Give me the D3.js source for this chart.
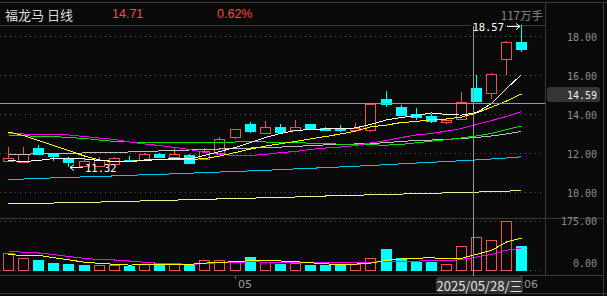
<!DOCTYPE html>
<html>
<head>
<meta charset="utf-8">
<script src="https://cdn.jsdelivr.net/npm/d3@7"></script>
<style>
    body { margin: 0; background: #0a0a0a; }
    svg { display: block; }
</style>
</head>
<body>
<svg id="chart" width="607" height="296"></svg>
<script>
// daily candles, 2025-04-10 .. 2025-06-03
const dates = ['2025-04-10', '2025-04-11', '2025-04-14', '2025-04-15', '2025-04-16', '2025-04-17', '2025-04-18',
    '2025-04-21', '2025-04-22', '2025-04-23', '2025-04-24', '2025-04-25', '2025-04-28', '2025-04-29', '2025-04-30',
    '2025-05-06', '2025-05-07', '2025-05-08', '2025-05-09', '2025-05-12', '2025-05-13', '2025-05-14', '2025-05-15',
    '2025-05-16', '2025-05-19', '2025-05-20', '2025-05-21', '2025-05-22', '2025-05-23', '2025-05-26', '2025-05-27',
    '2025-05-28', '2025-05-29', '2025-05-30', '2025-06-03'];
const open = [11.59, 11.54, 12.26, 11.98, 11.79, 11.38, 11.38, 11.47, 11.69, 11.69, 11.95, 11.83, 11.90, 11.74, 12.05,
    12.87, 13.49, 13.03, 13.38, 13.23, 13.49, 13.33, 13.28, 13.18, 13.18, 14.82, 14.36, 14.05, 13.90, 13.59, 13.79,
    15.38, 15.08, 16.87, 17.74];
const high = [12.33, 12.31, 12.46, 12.00, 11.82, 11.72, 11.81, 11.80, 11.85, 12.05, 12.03, 12.31, 11.95, 12.26, 12.87,
    13.28, 13.59, 13.69, 13.49, 13.74, 13.51, 13.38, 13.44, 13.54, 14.59, 15.23, 14.51, 14.31, 14.05, 13.76, 15.13,
    16.05, 16.12, 17.76, 18.57];
const low = [11.57, 11.52, 11.93, 11.62, 11.32, 11.36, 11.36, 11.45, 11.56, 11.67, 11.79, 11.80, 11.45, 11.72, 12.03,
    12.72, 13.03, 13.00, 13.03, 13.20, 13.26, 13.18, 13.08, 13.16, 13.08, 14.36, 13.98, 13.74, 13.54, 13.49, 13.77,
    14.67, 14.82, 16.05, 17.23];
const close = [11.79, 12.00, 11.95, 11.85, 11.54, 11.64, 11.68, 11.76, 11.59, 11.95, 11.82, 12.00, 11.50, 12.15, 12.72,
    13.28, 13.13, 13.38, 13.08, 13.38, 13.28, 13.23, 13.18, 13.33, 14.56, 14.56, 14.00, 13.85, 13.69, 13.74, 14.62,
    14.71, 16.10, 17.74, 17.38];

// volume, 万手
const volume = [60.7, 42.9, 35.7, 25, 21.4, 17.9, 17.9, 17.9, 14.3, 21.4, 25, 25, 17.9, 35.7, 35.7, 32, 46, 27, 21, 25,
    18, 18, 18, 21, 42, 75, 42, 30, 30, 20, 86, 117, 107, 175, 86];
const volUp = [1, 1, 0, 0, 0, 0, 1, 1, 0, 1, 0, 1, 0, 1, 1, 1, 0, 1, 0, 1, 0, 0, 0, 1, 1, 0, 0, 0, 0, 1, 1, 1, 1, 1, 0];

// moving averages
const ma5 = [11.64, 11.59, 11.64, 11.74, 11.77, 11.72, 11.64, 11.59, 11.59, 11.64, 11.69, 11.74, 11.72, 11.90, 12.10,
    12.31, 12.56, 12.82, 13.03, 13.18, 13.23, 13.26, 13.28, 13.31, 13.49, 13.72, 13.85, 13.95, 14.08, 14.00, 13.97,
    14.10, 14.56, 15.33, 16.05];
const ma10 = [13.10, 12.92, 12.67, 12.41, 12.15, 11.87, 11.67, 11.59, 11.59, 11.67, 11.69, 11.69, 11.69, 11.74, 11.87,
    12.05, 12.23, 12.38, 12.50, 12.62, 12.75, 12.87, 13.00, 13.15, 13.36, 13.46, 13.59, 13.64, 13.74, 13.77, 13.87,
    14.08, 14.38, 14.69, 15.05];
const ma20 = [13.03, 13.00, 12.97, 12.97, 12.95, 12.87, 12.79, 12.72, 12.59, 12.49, 12.41, 12.31, 12.21, 12.05, 11.95,
    11.90, 11.90, 11.95, 12.05, 12.10, 12.21, 12.28, 12.33, 12.41, 12.54, 12.67, 12.82, 12.95, 13.03, 13.15, 13.28,
    13.49, 13.69, 13.90, 14.15];
const ma30 = [12.92, 12.92, 12.87, 12.87, 12.82, 12.77, 12.69, 12.62, 12.59, 12.56, 12.56, 12.56, 12.56, 12.56, 12.56,
    12.59, 12.59, 12.59, 12.56, 12.56, 12.53, 12.50, 12.48, 12.46, 12.44, 12.43, 12.47, 12.55, 12.63, 12.71, 12.80,
    12.90, 13.03, 13.22, 13.41];
const ma60 = [11.95, 11.95, 12.00, 12.00, 12.00, 12.03, 12.05, 12.05, 12.08, 12.10, 12.13, 12.15, 12.18, 12.21, 12.23,
    12.26, 12.28, 12.31, 12.33, 12.36, 12.41, 12.44, 12.46, 12.49, 12.51, 12.56, 12.62, 12.67, 12.69, 12.72, 12.77,
    12.82, 12.90, 13.00, 13.13];
const ma120 = [10.67, 10.69, 10.72, 10.75, 10.78, 10.80, 10.83, 10.85, 10.88, 10.91, 10.93, 10.96, 10.99, 11.02, 11.05,
    11.08, 11.11, 11.14, 11.17, 11.21, 11.24, 11.28, 11.31, 11.35, 11.38, 11.43, 11.47, 11.51, 11.55, 11.59, 11.63,
    11.67, 11.72, 11.77, 11.83];
const ma250 = [9.41, 9.44, 9.45, 9.46, 9.49, 9.50, 9.51, 9.54, 9.55, 9.57, 9.59, 9.61, 9.63, 9.65, 9.67, 9.69, 9.71,
    9.73, 9.75, 9.77, 9.79, 9.82, 9.84, 9.86, 9.88, 9.90, 9.92, 9.94, 9.96, 9.98, 10.00, 10.02, 10.05, 10.07, 10.10];
const volMa5 = [57, 50, 52.5, 44, 36.8, 27.5, 23.9, 20.4, 17.5, 19.5, 20.5, 20.7, 20, 24.5, 27.5, 29.5, 33.5, 35.3, 32.3,
    29.5, 26, 21.8, 20.2, 21, 24.5, 34.5, 39.5, 42, 44, 39.4, 41.8, 56, 70, 100, 114];
const volMa10 = [67.9, 63.2, 60.7, 55.4, 48.2, 41.8, 36.4, 35.7, 32.1, 27.5, 23.9, 22.5, 20.4, 22.5, 26.1, 26.1, 29.6,
    28, 27.5, 27.5, 27, 26.5, 26.5, 26.5, 27.5, 30.5, 31.5, 32, 32.5, 33, 38, 46, 56, 71, 77];

const priceTicks = [10, 12, 14, 16, 18];
const volTicks = [0, 175];

const title = '福龙马 日线';
const cursorIdx = 31;          // 2025/05/28
const cursorPrice = 14.59;
const cursorLabel = '2025/05/28/三';
const weekdayLabel = '万手';

const red = '#f05252', cyan = '#00ffff', bg = '#0a0a0a';
const frame = '#3a3a3a', dots = '#555', axisText = '#8e8e8e';
const mono = '"DejaVu Sans Mono", monospace';
const cjk = '"Noto Sans CJK SC", sans-serif';

const svg = d3.select('#chart');
svg.append('rect').attr('width', 607).attr('height', 296).attr('fill', bg);

const n = dates.length;
const x = d3.scaleBand().domain(d3.range(n)).range([0.5, 529]);
const cx = i => Math.round(x(i) + x.bandwidth() / 2);
const y = d3.scaleLinear().domain([10, 18]).range([192.5, 36.5]);
const yv = d3.scaleLinear().domain([0, 175]).range([270, 221]);
const px = v => Math.floor(v) + 0.5;

// panel frame
const frameG = svg.append('g').attr('stroke', frame).attr('shape-rendering', 'crispEdges');
[[0, 2.5, 607, 2.5], [0, 25.5, 545, 25.5], [545.5, 2.5, 545.5, 276], [0, 218.5, 603, 218.5],
    [0, 275.5, 603, 275.5], [0, 293.5, 607, 293.5], [603.5, 2.5, 603.5, 296]].forEach(l => {
    frameG.append('line').attr('x1', l[0]).attr('y1', l[1]).attr('x2', l[2]).attr('y2', l[3]);
});

// dotted grid
const gridG = svg.append('g').attr('stroke', dots).attr('stroke-dasharray', '1,4')
    .attr('shape-rendering', 'crispEdges');
gridG.selectAll('line.p').data(priceTicks).enter().append('line')
    .attr('x1', 0).attr('x2', 545).attr('y1', d => px(y(d))).attr('y2', d => px(y(d)));
gridG.selectAll('line.v').data(volTicks).enter().append('line')
    .attr('x1', 0).attr('x2', 545).attr('y1', d => px(yv(d))).attr('y2', d => px(yv(d)));

// right axis labels
svg.append('g').selectAll('text').data(priceTicks).enter().append('text')
    .attr('x', 597).attr('y', d => y(d) + 0.5)
    .attr('text-anchor', 'end').attr('dominant-baseline', 'central')
    .attr('font-family', mono).attr('font-size', 10).attr('fill', axisText)
    .text(d => d.toFixed(2));
svg.append('g').selectAll('text').data(volTicks).enter().append('text')
    .attr('x', 597).attr('y', d => d === 0 ? yv(d) - 7 : yv(d) + 0.5)
    .attr('text-anchor', 'end').attr('dominant-baseline', 'central')
    .attr('font-family', mono).attr('font-size', 10).attr('fill', axisText)
    .text(d => d.toFixed(2));

// long moving averages under the candles
const priceLine = arr => d3.line().x((d, i) => cx(i) + 0.5).y(d => y(d))(arr);
const maDefs = [
    [ma250, '#f2f28c'], [ma120, '#00c8f0'], [ma60, '#bdbdbd'], [ma30, '#00e600'],
    [ma20, '#ff00ff'], [ma10, '#ffff00'], [ma5, '#ffffff']
];

// candles
const idx = d3.range(n);
const candles = svg.append('g').attr('shape-rendering', 'crispEdges');
candles.selectAll('line').data(idx).enter().append('line')
    .attr('x1', i => cx(i) + 0.5).attr('x2', i => cx(i) + 0.5)
    .attr('y1', i => Math.round(y(high[i]))).attr('y2', i => Math.round(y(low[i])))
    .attr('stroke', i => close[i] >= open[i] ? red : cyan);
candles.selectAll('rect').data(idx).enter().append('rect')
    .each(function (i) {
        const up = close[i] >= open[i];
        const top = Math.round(y(Math.max(open[i], close[i])));
        const bot = Math.round(y(Math.min(open[i], close[i])));
        const r = d3.select(this);
        if (up) {
            r.attr('x', cx(i) - 4.5).attr('width', 10).attr('y', top + 0.5)
                .attr('height', Math.max(bot - top, 1))
                .attr('fill', bg).attr('stroke', red);
        } else {
            r.attr('x', cx(i) - 5).attr('width', 11).attr('y', top)
                .attr('height', Math.max(bot - top + 1, 1)).attr('fill', cyan);
        }
    });

// MA lines
svg.append('g').attr('fill', 'none').attr('shape-rendering', 'crispEdges')
    .selectAll('path').data(maDefs).enter().append('path')
    .attr('d', d => priceLine(d[0])).attr('stroke', d => d[1]).attr('stroke-width', 1);

// volume bars
const vols = svg.append('g').attr('shape-rendering', 'crispEdges');
vols.selectAll('rect').data(idx).enter().append('rect')
    .each(function (i) {
        const top = Math.round(yv(volume[i]));
        const r = d3.select(this);
        if (volUp[i]) {
            r.attr('x', cx(i) - 4.5).attr('width', 10).attr('y', top + 0.5)
                .attr('height', 270 - top).attr('fill', 'none').attr('stroke', red);
        } else {
            r.attr('x', cx(i) - 5).attr('width', 11).attr('y', top)
                .attr('height', 271 - top).attr('fill', cyan);
        }
    });
const volLine = arr => d3.line().x((d, i) => cx(i) + 0.5).y(d => yv(d))(arr);
svg.append('g').attr('fill', 'none').attr('shape-rendering', 'crispEdges')
    .selectAll('path').data([[volMa10, '#ff00ff'], [volMa5, '#ffff00']]).enter().append('path')
    .attr('d', d => volLine(d[0])).attr('stroke', d => d[1]);

// highest / lowest markers
const hiIdx = d3.maxIndex(high), loIdx = d3.minIndex(low);
const hy = Math.round(y(high[hiIdx])) + 1.5, hx = cx(hiIdx);
svg.append('rect').attr('x', hx - 50).attr('y', hy - 6).attr('width', 34).attr('height', 11).attr('fill', bg);
svg.append('text').attr('x', hx - 17).attr('y', hy).attr('text-anchor', 'end')
    .attr('dominant-baseline', 'central').attr('font-family', mono).attr('font-size', 10.5)
    .attr('fill', '#ffffff').text(high[hiIdx].toFixed(2));
svg.append('path').attr('fill', 'none').attr('stroke', '#ffffff')
    .attr('d', `M${hx - 14},${hy}H${hx - 1}M${hx - 5},${hy - 3}L${hx - 1},${hy}L${hx - 5},${hy + 3}`);

const ly = Math.round(y(low[loIdx])) + 0.5, lx = cx(loIdx);
svg.append('path').attr('fill', 'none').attr('stroke', '#ffffff')
    .attr('d', `M${lx + 2},${ly}H${lx + 15}M${lx + 6},${ly - 3}L${lx + 2},${ly}L${lx + 6},${ly + 3}`);
svg.append('text').attr('x', lx + 17).attr('y', ly).attr('dominant-baseline', 'central')
    .attr('font-family', mono).attr('font-size', 10.5).attr('fill', '#ffffff')
    .text(low[loIdx].toFixed(2));

// month labels
const months = svg.append('g');
idx.filter(i => i > 0 && dates[i].slice(5, 7) !== dates[i - 1].slice(5, 7)).forEach(i => {
    months.append('line').attr('x1', cx(i) + 0.5).attr('x2', cx(i) + 0.5).attr('y1', 276).attr('y2', 279)
        .attr('stroke', '#666').attr('shape-rendering', 'crispEdges');
    months.append('text').attr('x', cx(i) + 3).attr('y', 284.5).attr('dominant-baseline', 'central')
        .attr('font-family', '"DejaVu Sans", sans-serif').attr('font-size', 11).attr('fill', '#999')
        .text(dates[i].slice(5, 7));
});

// crosshair
const chx = cx(cursorIdx) - 3 + 0.5, chy = Math.round(y(cursorPrice)) + 0.5;
svg.append('line').attr('x1', chx).attr('x2', chx).attr('y1', 26).attr('y2', 276)
    .attr('stroke', '#9a9a9a').attr('shape-rendering', 'crispEdges');
svg.append('line').attr('x1', 0).attr('x2', 545).attr('y1', chy).attr('y2', chy)
    .attr('stroke', '#9a9a9a').attr('shape-rendering', 'crispEdges');
svg.append('rect').attr('x', 547).attr('y', chy - 16.5).attr('width', 53).attr('height', 15).attr('rx', 3)
    .attr('fill', '#363636');
svg.append('text').attr('x', 597).attr('y', chy - 8.5).attr('text-anchor', 'end')
    .attr('dominant-baseline', 'central').attr('font-family', mono).attr('font-size', 10)
    .attr('fill', '#f0f0f0').text(cursorPrice.toFixed(2));
svg.append('rect').attr('x', chx - 37.5).attr('y', 277).attr('width', 87).attr('height', 15.5).attr('rx', 3)
    .attr('fill', '#363636');
svg.append('text').attr('x', chx + 6).attr('y', 285).attr('text-anchor', 'middle')
    .attr('dominant-baseline', 'central').attr('font-family', cjk).attr('font-size', 13)
    .attr('fill', '#e2e2e2').text(cursorLabel);

// header
svg.append('text').attr('x', 5).attr('y', 14).attr('dominant-baseline', 'central')
    .attr('font-family', cjk).attr('font-size', 13).attr('fill', '#dddddd').text(title);
const chg = (close[cursorIdx] - close[cursorIdx - 1]) / close[cursorIdx - 1] * 100;
svg.append('text').attr('x', 112).attr('y', 14).attr('dominant-baseline', 'central')
    .attr('font-family', '"Liberation Sans", Arial, sans-serif').attr('font-size', 12.5).attr('fill', '#ff4545')
    .text(close[cursorIdx].toFixed(2));
svg.append('text').attr('x', 217).attr('y', 14).attr('dominant-baseline', 'central')
    .attr('font-family', '"Liberation Sans", Arial, sans-serif').attr('font-size', 12.5).attr('fill', '#ff4545')
    .text(chg.toFixed(2) + '%');
svg.append('text').attr('x', 543).attr('y', 15).attr('text-anchor', 'end').attr('dominant-baseline', 'central')
    .attr('font-family', cjk).attr('font-size', 11.5).attr('fill', '#8a8a8a')
    .text(Math.round(volume[cursorIdx]) + weekdayLabel);
</script>
</body>
</html>
